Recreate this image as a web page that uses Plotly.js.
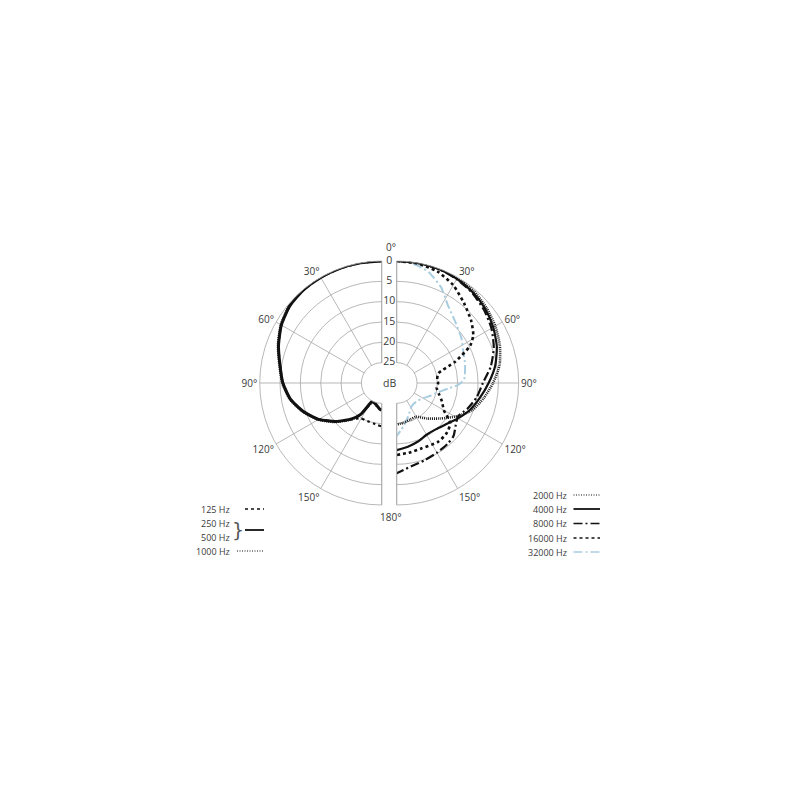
<!DOCTYPE html>
<html><head><meta charset="utf-8">
<script src="https://cdn.plot.ly/plotly-3.0.1.min.js"></script>
<style>html,body{margin:0;padding:0;background:#fff}</style>
</head><body>
<div id="chart" style="width:800px;height:800px"></div>
<script>
// ---- data: attenuation in dB vs angle (degrees from front) ----
// left half (low frequencies)
const ang125 = [0,10,20,30,40,50,60,70,80,90,100,110,120,130,135,140,145,150,160,170,180];
const db125  = [0,0,0,0,0.1,0.5,1.5,3.0,4.6,5.7,7.2,9.5,12.1,15.3,16.8,18.3,19.3,19.9,20.0,19.8,19.3];
const ang250_500 = [0,10,20,30,40,50,60,70,80,90,100,110,120,130,140,146,150,153,160,167,175,180];
const db250_500  = [0,0,0,0,0.1,0.5,1.5,3.0,4.6,5.7,7.2,9.5,12.1,15.3,18.5,20.6,24.0,25.0,24.8,24.4,23.6,23.3];
const ang1000 = [0,10,20,30,40,50,60,70,80,90,100,110,120,130,140,145,150,155,160,170,180];
const db1000  = [0,0,0,0,0,0.3,1.3,2.8,4.4,5.5,7.0,9.3,11.9,15.0,18.2,20.0,23.2,24.8,24.7,24.0,23.5];
// right half (high frequencies)
const ang2000 = [0,10,20,30,40,50,60,70,80,90,100,110,118,125,130,140,150,160,170,180];
const db2000  = [0,0,0,0.1,0.5,1.2,2.0,3.0,4.3,6.3,8.3,10.3,12.8,15.0,16.4,18.6,20.4,20.4,20.1,19.8];
const ang4000 = [0,10,20,30,40,50,60,70,80,90,100,110,120,130,140,150,160,170,180];
const db4000  = [0,0,0.1,0.4,0.9,1.6,2.6,3.8,5.4,7.4,9.2,10.8,12.6,14.2,15.1,15.3,14.7,14.1,13.5];
const ang8000 = [0,10,20,30,40,50,60,70,80,90,100,110,118,123,133,140,150,160,170,180];
const db8000  = [0,0,0.1,0.5,1.1,2.0,3.1,4.6,6.5,8.8,10.0,11.5,12.8,12.5,10.9,10.5,10.2,9.8,9.2,7.8];
const ang16000 = [0,10,20,30,40,50,58,63,70,77,85,90,97,105,112,120,127,135,145,160,170,180];
const db16000  = [0,0.2,0.8,2.2,4.3,6.1,7.8,9.7,14.7,19.5,20.0,19.8,20.1,19.2,18.0,16.6,13.5,12.6,12.3,12.8,12.6,12.3];
const ang32000 = [0,5,10,16,25,33,44,55,65,75,87,92,96,104,110,120,130,140,150,160,170,175,180];
const db32000  = [0,0.2,0.7,1.6,4.1,7.0,9.2,10.6,11.9,12.6,13.4,15.0,17.2,19.9,21.0,22.5,23.2,23.4,23.0,21.5,19.5,18.3,17.0];

const ringLabels = ['0','5','10','15','20','25'];
const ringValues = [0,5,10,15,20,25];

const G = '#a6a6a6';
const TXT = '#3a3a3a';
const FONT = 'Open Sans, sans-serif';

function line(color, width, dash){ return {color:color, width:width, dash:dash, shape:'spline', smoothing:0.6}; }

const traces = [
  {type:'scatterpolar', subplot:'polar', name:'125 Hz', theta:ang125, r:db125, mode:'lines', line:line('#111',2.2,'3px,3px')},
  {type:'scatterpolar', subplot:'polar', name:'1000 Hz', theta:ang1000, r:db1000, mode:'lines', line:line('#222',2.2,'1px,1px')},
  {type:'scatterpolar', subplot:'polar', name:'250 Hz / 500 Hz', theta:ang250_500, r:db250_500, mode:'lines', line:line('#111',3,'solid')},
  {type:'scatterpolar', subplot:'polar2', name:'32000 Hz', theta:ang32000, r:db32000, mode:'lines', line:line('#a9cde0',2,'9px,3px,2px,3px')},
  {type:'scatterpolar', subplot:'polar2', name:'2000 Hz', theta:ang2000, r:db2000, mode:'lines', line:line('#222',2.6,'1px,1px')},
  {type:'scatterpolar', subplot:'polar2', name:'4000 Hz', theta:ang4000, r:db4000, mode:'lines', line:line('#111',2.2,'solid')},
  {type:'scatterpolar', subplot:'polar2', name:'8000 Hz', theta:ang8000, r:db8000, mode:'lines', line:line('#111',2.2,'9px,3px,2px,3px')},
  {type:'scatterpolar', subplot:'polar2', name:'16000 Hz', theta:ang16000, r:db16000, mode:'lines', line:line('#111',2.6,'3px,3px')},
  {type:'scatterpolar', subplot:'polar3', name:'ring labels', theta:ringValues.map(()=>0), r:ringValues, text:ringLabels,
   mode:'text', textposition:'middle center', textfont:{size:10.5,color:TXT,family:FONT}, cliponaxis:false, hoverinfo:'skip'}
];

const px = x => x/800, py = y => 1 - y/800;
const R = 122, HOLE = 20.3/122;
const cy = 383, cL = 381.7, cR = 396.7, cM = 389.2;

function radial(){ return {range:[25,0], tickmode:'array', tickvals:[0,5,10,15,20], showticklabels:false, ticks:'', showline:false, gridcolor:G, gridwidth:0.8}; }
function angular(dir){
  return {rotation:90, direction:dir, tickmode:'array', tickvals:[0,30,60,90,120,150,180],
    ticktext:['','30°','60°','90°','120°','150°',''], ticks:'', showline:true, linecolor:G, linewidth:0.8,
    gridcolor:G, gridwidth:0.8, tickfont:{size:10,color:TXT,family:FONT}};
}

const layout = {
  width:800, height:800, margin:{l:0,r:0,t:0,b:0,pad:0}, showlegend:false,
  paper_bgcolor:'#fff', font:{family:FONT,color:TXT},
  polar:{domain:{x:[px(cL-R),px(cL)], y:[py(cy+R),py(cy-R)]}, sector:[90,270], hole:HOLE, bgcolor:'rgba(0,0,0,0)',
    radialaxis:radial(), angularaxis:angular('counterclockwise')},
  polar2:{domain:{x:[px(cR),px(cR+R)], y:[py(cy+R),py(cy-R)]}, sector:[-90,90], hole:HOLE, bgcolor:'rgba(0,0,0,0)',
    radialaxis:radial(), angularaxis:angular('clockwise')},
  polar3:{domain:{x:[px(cM-R),px(cM+R)], y:[py(cy+R),py(cy-R)]}, hole:HOLE, bgcolor:'rgba(0,0,0,0)',
    radialaxis:{range:[25,0], showgrid:false, showline:false, showticklabels:false, ticks:''},
    angularaxis:{rotation:90, direction:'clockwise', showgrid:false, showline:false, showticklabels:false, ticks:''}},
  annotations:[
    {xref:'paper', yref:'paper', x:px(cM), y:py(cy), xanchor:'center', yanchor:'middle', text:'dB', showarrow:false, font:{size:10.5,color:TXT,family:FONT}},
    {xref:'paper', yref:'paper', x:px(cM+1.5), y:py(247.5), xanchor:'center', yanchor:'middle', text:'0°', showarrow:false, font:{size:10,color:TXT,family:FONT}},
    {xref:'paper', yref:'paper', x:px(cM+1), y:py(517), xanchor:'center', yanchor:'middle', text:'180°', showarrow:false, font:{size:10,color:TXT,family:FONT}}
  ],
  shapes:[]
};

// custom legends (text left, line sample right)
const legLeft = [
  {label:'125 Hz', y:509, dash:'3px,3px', w:1.6, color:'#111', x0:245},
  {label:'250 Hz', y:523, dash:null},
  {label:'500 Hz', y:537, dash:null},
  {label:'1000 Hz', y:551, dash:'1px,1.5px', w:1.2, color:'#111', x0:237}
];
legLeft.forEach(it=>{
  layout.annotations.push({xref:'paper', yref:'paper', x:px(232), y:py(it.y), xanchor:'right', yanchor:'middle', text:it.label, showarrow:false, font:{size:9,color:TXT,family:FONT}});
  if(it.dash) layout.shapes.push({type:'line', xref:'paper', yref:'paper', x0:px(it.x0), x1:px(264), y0:py(it.y), y1:py(it.y), line:{color:it.color,width:it.w,dash:it.dash}});
});
layout.shapes.push({type:'line', xref:'paper', yref:'paper', x0:px(245), x1:px(264), y0:py(530), y1:py(530), line:{color:'#111',width:1.8}});
layout.annotations.push({xref:'paper', yref:'paper', x:px(238.5), y:py(529.5), xanchor:'center', yanchor:'middle', text:'}', showarrow:false, font:{size:19,color:'#555',family:'DejaVu Sans, sans-serif'}});

const legRight = [
  {label:'2000 Hz', y:495, dash:'1px,1.5px', w:1.2, color:'#111'},
  {label:'4000 Hz', y:509, dash:'solid', w:1.8, color:'#111'},
  {label:'8000 Hz', y:523.5, dash:'9px,3px,2px,3px', w:1.6, color:'#111'},
  {label:'16000 Hz', y:538, dash:'3px,3px', w:1.6, color:'#111'},
  {label:'32000 Hz', y:552, dash:'9px,3px,2px,3px', w:1.6, color:'#a9cde0'}
];
legRight.forEach(it=>{
  layout.annotations.push({xref:'paper', yref:'paper', x:px(568.5), y:py(it.y), xanchor:'right', yanchor:'middle', text:it.label, showarrow:false, font:{size:9,color:TXT,family:FONT}});
  layout.shapes.push({type:'line', xref:'paper', yref:'paper', x0:px(573.5), x1:px(600), y0:py(it.y), y1:py(it.y), line:{color:it.color,width:it.w,dash:it.dash}});
});

Plotly.newPlot('chart', traces, layout, {staticPlot:true});
</script>
</body></html>
